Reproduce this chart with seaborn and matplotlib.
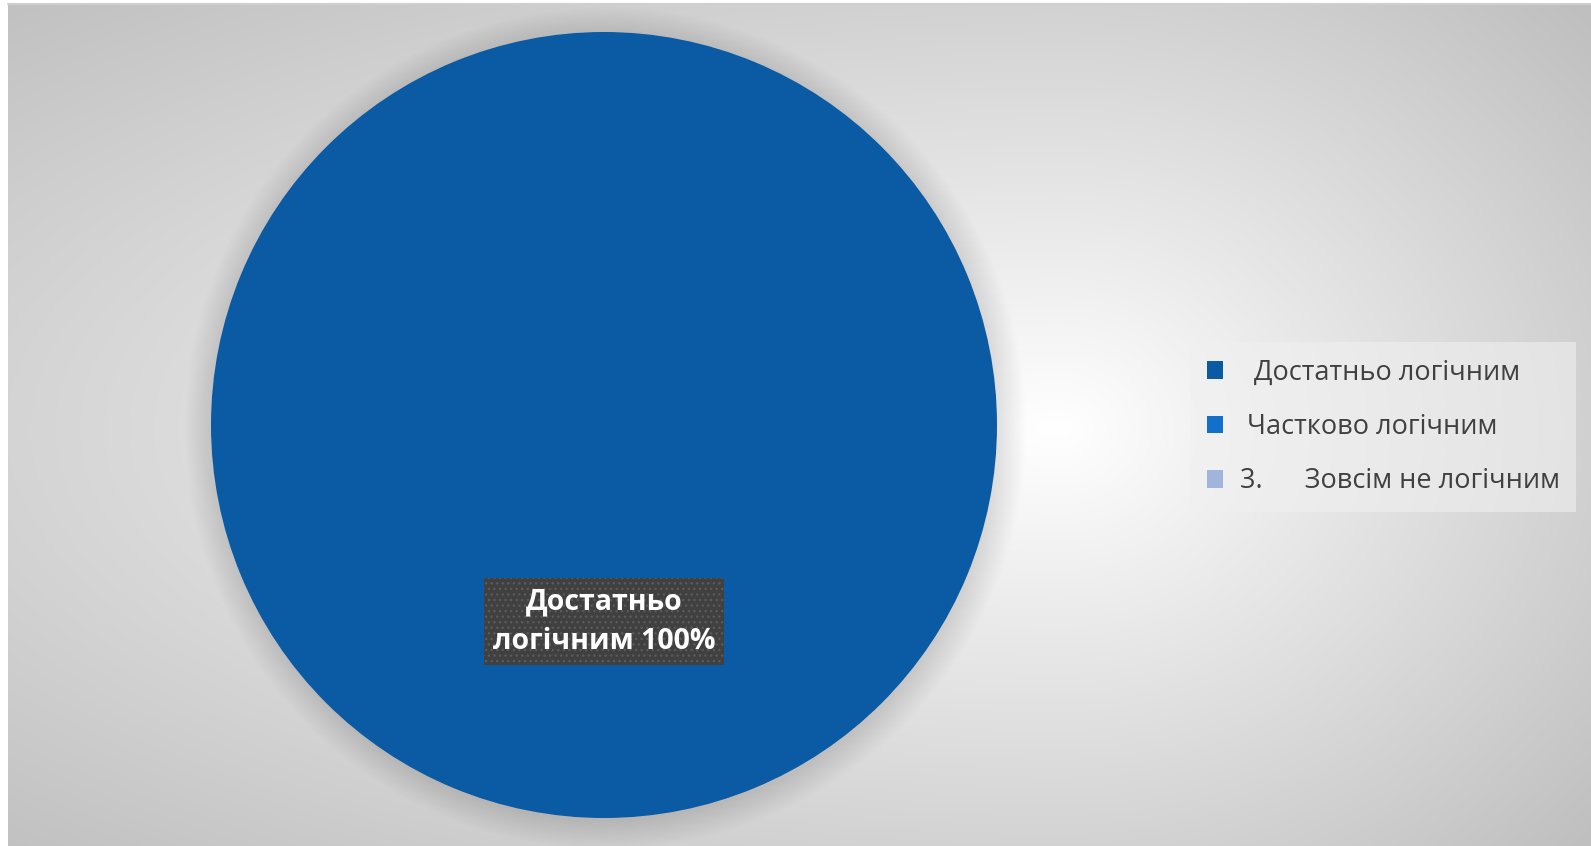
import numpy as np
import matplotlib
matplotlib.use("Agg")
import matplotlib.pyplot as plt
from matplotlib.patches import Circle
import seaborn as sns

# ---- data ----
categories = ["Достатньо логічним", "Частково логічним", "3.      Зовсім не логічним"]
legend_labels = ["  Достатньо логічним", " Частково логічним", "3.      Зовсім не логічним"]
values = [100, 0, 0]
slice_label = "Достатньо\nлогічним"
colors = ["#0b5aa4", "#1170c9", "#a0b4dc"]

sns.set_theme(style="white")
plt.rcParams['font.family'] = ['Open Sans', 'Noto Sans', 'DejaVu Sans']

W, H = 1591, 846
fig = plt.figure(figsize=(W / 100, H / 100), dpi=100)
fig.patch.set_facecolor("white")

# ---- background gradient ----
bg = fig.add_axes([8 / W, 0, 1 - 8 / W, (H - 4) / H])
bw, bh = W - 8, H - 4
yy, xx = np.mgrid[0:bh, 0:bw]
cx, cy = 1060 - 8, 425
sx = np.where(xx > cx, 580.0, 1250.0)
t = np.sqrt(((xx - cx) / sx) ** 2 + ((yy - cy) / 480.0) ** 2)
t = np.clip(t, 0, 1.25)
g = 1.0 - 0.2 * t
img = np.dstack([g, g, g])
bg.imshow(img, aspect="auto", extent=[0, 1, 0, 1], interpolation="bilinear")
bg.set_axis_off()
fig.add_artist(plt.Line2D([8 / W, 1], [(H - 4) / H, (H - 4) / H], color="#cfcfcf", lw=1.5,
                          transform=fig.transFigure))

# ---- pie ----
pcx, pcy, r = 604, 425, 393
ax = fig.add_axes([(pcx - r) / W, (H - pcy - r) / H, 2 * r / W, 2 * r / H])
ax.set_facecolor("none")
ax.set_axis_off()

# soft shadow around the pie
for rr in np.linspace(1.0, 1.07, 14):
    ax.add_patch(Circle((0.004, -0.008), rr, color="black", alpha=0.009, lw=0, zorder=0,
                        clip_on=False))

def autopct(p):
    return f"{slice_label} {p:.0f}%" if p > 0.5 else ""

wedges, texts, autotexts = ax.pie(values, colors=colors, startangle=90, counterclock=False,
                                  autopct=autopct, pctdistance=0.5, radius=1.0,
                                  wedgeprops=dict(linewidth=0, zorder=2),
                                  textprops=dict(color="white", fontsize=20.5,
                                                 linespacing=1.5, ha="center", va="center"))
ax.set_xlim(-1.0, 1.0)
ax.set_ylim(-1.0, 1.0)
for at in autotexts:
    if at.get_text():
        at.set_fontweight("bold")
        at.set_zorder(5)
        at.set_bbox(dict(boxstyle="square,pad=0.32", facecolor="#404040", edgecolor="#5a5a5a",
                         linewidth=0, hatch="..."))

# ---- legend ----
leg = fig.legend(wedges, legend_labels, loc="center left",
                 bbox_to_anchor=(1193 / W, (H - 427) / H), frameon=True,
                 fontsize=19.5, handlelength=0.62, handleheight=0.62, handletextpad=0.6,
                 labelspacing=0.97, borderpad=0.3, borderaxespad=0.2, labelcolor="#404040")
fr = leg.get_frame()
fr.set_facecolor("#f0f0f0")
fr.set_alpha(0.6)
fr.set_edgecolor("none")
fr.set_boxstyle("square")

fig.savefig("out.png", dpi=100)
